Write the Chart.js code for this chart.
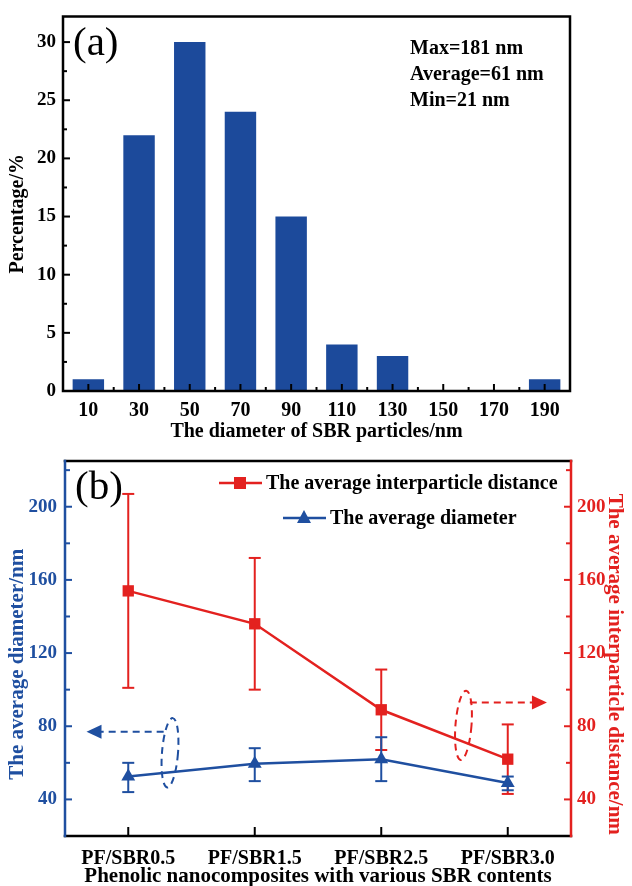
<!DOCTYPE html>
<html>
<head>
<meta charset="utf-8">
<script src="https://cdn.jsdelivr.net/npm/chart.js@4"></script>
<style>
  body { margin: 0; background: #fff; }
  canvas { display: block; }
</style>
</head>
<body>
<canvas id="histChart" width="632" height="443"></canvas>
<canvas id="spacingChart" width="632" height="443"></canvas>
<script>
// (a) particle size distribution
const sizeBins = ['10', '30', '50', '70', '90', '110', '130', '150', '170', '190'];
const percentages = [1, 22, 30, 24, 15, 4, 3, 0, 0, 1];
const percentTicks = [0, 5, 10, 15, 20, 25, 30];
const statsLines = ['Max=181 nm', 'Average=61 nm', 'Min=21 nm'];

// (b) diameter and interparticle distance
const composites = ['PF/SBR0.5', 'PF/SBR1.5', 'PF/SBR2.5', 'PF/SBR3.0'];
const distance = [154, 136, 89, 62];
const distanceHigh = [207, 172, 111, 81];
const distanceLow = [101, 100, 67, 43];
const diameter = [52.5, 59.5, 62, 49];
const diameterHigh = [60, 68, 74, 52.5];
const diameterLow = [44, 50, 50, 45];
const nmTicks = [40, 80, 120, 160, 200];

const SERIF = '"Liberation Serif", "Times New Roman", serif';
const BAR_BLUE = '#1c4a9b';
const BLUE = '#1f4fa0';
const RED = '#e3211f';
const EN = '\u2002'; // nudges the vertical titles a little below centre, as in the figure

function boldFont(size) {
    return { family: SERIF, size: size, weight: 'bold', lineHeight: 1 };
}

function tickLine(ctx, x1, y1, x2, y2) {
    ctx.beginPath();
    ctx.moveTo(x1, y1);
    ctx.lineTo(x2, y2);
    ctx.stroke();
}

// ticks pointing into the plot, Origin style
function innerTicks(chart, id, values, len, color, side) {
    const scale = chart.scales[id];
    const area = chart.chartArea;
    const ctx = chart.ctx;
    ctx.save();
    ctx.strokeStyle = color;
    ctx.lineWidth = 2;
    values.filter(v => v >= scale.min && v <= scale.max).forEach(v => {
        const p = scale.getPixelForValue(v);
        if (side === 'bottom') tickLine(ctx, p, area.bottom, p, area.bottom - len);
        if (side === 'left') tickLine(ctx, area.left, p, area.left + len, p);
        if (side === 'right') tickLine(ctx, area.right, p, area.right - len, p);
    });
    ctx.restore();
}

function frameSide(ctx, color, x1, y1, x2, y2) {
    ctx.save();
    ctx.strokeStyle = color;
    ctx.lineWidth = 2.5;
    ctx.lineCap = 'square';
    tickLine(ctx, x1, y1, x2, y2);
    ctx.restore();
}

const histDecor = {
    id: 'histDecor',
    afterDraw(chart) {
        const ctx = chart.ctx;
        const a = chart.chartArea;
        const majors = sizeBins.map((b, i) => i);
        const minors = sizeBins.slice(1).map((b, i) => i + 0.5);
        innerTicks(chart, 'x', majors, 7, '#000', 'bottom');
        innerTicks(chart, 'x', minors, 4, '#000', 'bottom');
        innerTicks(chart, 'y', percentTicks, 7, '#000', 'left');
        innerTicks(chart, 'y', percentTicks.map(v => v + 2.5), 4, '#000', 'left');
        ctx.save();
        ctx.strokeStyle = '#000';
        ctx.lineWidth = 2.5;
        ctx.strokeRect(a.left, a.top, a.right - a.left, a.bottom - a.top);
        ctx.fillStyle = '#000';
        ctx.font = '41px ' + SERIF;
        ctx.textBaseline = 'middle';
        ctx.fillText('(a)', a.left + 10, a.top + 28);
        ctx.font = 'bold 20px ' + SERIF;
        statsLines.forEach((t, i) => ctx.fillText(t, 410, 49 + i * 26));
        ctx.restore();
    }
};

new Chart(document.getElementById('histChart'), {
    type: 'bar',
    data: {
        labels: sizeBins,
        datasets: [{
            data: percentages,
            backgroundColor: BAR_BLUE,
            borderWidth: 0,
            categoryPercentage: 1,
            barPercentage: 0.62
        }]
    },
    options: {
        responsive: false,
        animation: false,
        layout: { padding: { top: 14, right: 62, left: 0, bottom: 0 } },
        plugins: { legend: { display: false }, tooltip: { enabled: false } },
        scales: {
            x: {
                offset: true,
                grid: { display: false, drawTicks: false },
                border: { display: false },
                ticks: { color: '#000', font: boldFont(20), padding: 10 },
                title: { display: true, text: 'The diameter of SBR particles/nm', color: '#000', font: boldFont(20), padding: { bottom: 1 } },
                afterFit(s) { s.height = 52; }
            },
            y: {
                min: 0,
                max: 32.2,
                grid: { display: false, drawTicks: false },
                border: { display: false },
                afterBuildTicks(s) { s.ticks = percentTicks.map(v => ({ value: v })); },
                ticks: { color: '#000', font: boldFont(19), padding: 7 },
                title: { display: true, text: 'Percentage/%' + EN + EN, color: '#000', font: boldFont(20), padding: { top: 8 } },
                afterFit(s) { s.width = 63; }
            }
        }
    },
    plugins: [histDecor]
});

// error bars, legend, frame and the dashed call-outs for (b)
function errorBars(chart, id, hi, lo, color) {
    const ctx = chart.ctx;
    const ys = chart.scales[id];
    const xs = chart.scales.x;
    ctx.save();
    ctx.strokeStyle = color;
    ctx.lineWidth = 2;
    hi.forEach((h, i) => {
        const x = xs.getPixelForValue(i);
        const yh = ys.getPixelForValue(h);
        const yl = ys.getPixelForValue(lo[i]);
        tickLine(ctx, x, yh, x, yl);
        tickLine(ctx, x - 6, yh, x + 6, yh);
        tickLine(ctx, x - 6, yl, x + 6, yl);
    });
    ctx.restore();
}

function callout(chart, color, cx, cy, ry, lineFrom, lineTo, lineVal) {
    const ctx = chart.ctx;
    const xs = chart.scales.x;
    const ys = chart.scales.y;
    const ex = xs.getPixelForValue(cx);
    const ey = ys.getPixelForValue(cy);
    const ly = ys.getPixelForValue(lineVal);
    const x1 = xs.getPixelForValue(lineFrom);
    const x2 = xs.getPixelForValue(lineTo);
    const dir = Math.sign(x2 - x1);
    ctx.save();
    ctx.strokeStyle = color;
    ctx.fillStyle = color;
    ctx.lineWidth = 2;
    ctx.setLineDash([7, 5]);
    ctx.beginPath();
    ctx.ellipse(ex, ey, 8, ys.getPixelForValue(cy - ry) - ey, 0.08, 0, Math.PI * 2);
    ctx.stroke();
    tickLine(ctx, x1, ly, x2 - dir * 14, ly);
    ctx.setLineDash([]);
    ctx.beginPath();
    ctx.moveTo(x2, ly);
    ctx.lineTo(x2 - dir * 15, ly - 7);
    ctx.lineTo(x2 - dir * 15, ly + 7);
    ctx.closePath();
    ctx.fill();
    ctx.restore();
}

function legendItem(ctx, x, y, color, shape, text) {
    ctx.save();
    ctx.strokeStyle = color;
    ctx.fillStyle = color;
    ctx.lineWidth = 2.5;
    tickLine(ctx, x, y, x + 43, y);
    const mx = x + 21;
    ctx.beginPath();
    if (shape === 'rect') {
        ctx.rect(mx - 6, y - 6, 12, 12);
    } else {
        ctx.moveTo(mx, y - 8);
        ctx.lineTo(mx + 7, y + 5);
        ctx.lineTo(mx - 7, y + 5);
        ctx.closePath();
    }
    ctx.fill();
    ctx.fillStyle = '#000';
    ctx.font = 'bold 20px ' + SERIF;
    ctx.textBaseline = 'middle';
    ctx.fillText(text, x + 47, y + 1);
    ctx.restore();
}

const spacingDecor = {
    id: 'spacingDecor',
    beforeDatasetsDraw(chart) {
        errorBars(chart, 'y1', distanceHigh, distanceLow, RED);
        errorBars(chart, 'y', diameterHigh, diameterLow, BLUE);
        callout(chart, BLUE, 0.33, 65.5, 19, 0.28, -0.33, 77);
        callout(chart, RED, 2.65, 80.5, 19, 2.7, 3.31, 93);
    },
    afterDraw(chart) {
        const ctx = chart.ctx;
        const a = chart.chartArea;
        innerTicks(chart, 'x', composites.map((c, i) => i), 9, '#000', 'bottom');
        innerTicks(chart, 'y', nmTicks, 7, BLUE, 'left');
        innerTicks(chart, 'y', nmTicks.map(v => v + 20), 5, BLUE, 'left');
        innerTicks(chart, 'y1', nmTicks, 7, RED, 'right');
        innerTicks(chart, 'y1', nmTicks.map(v => v + 20), 5, RED, 'right');
        frameSide(ctx, '#000', a.left, a.top, a.right, a.top);
        frameSide(ctx, '#000', a.left, a.bottom, a.right, a.bottom);
        frameSide(ctx, BLUE, a.left, a.top, a.left, a.bottom);
        frameSide(ctx, RED, a.right, a.top, a.right, a.bottom);
        ctx.save();
        ctx.fillStyle = '#000';
        ctx.font = '41px ' + SERIF;
        ctx.textBaseline = 'middle';
        ctx.fillText('(b)', a.left + 10, a.top + 27);
        ctx.restore();
        legendItem(ctx, 219, a.top + 22, RED, 'rect', chart.data.datasets[0].label);
        legendItem(ctx, 283, a.top + 57, BLUE, 'triangle', chart.data.datasets[1].label);
    }
};

new Chart(document.getElementById('spacingChart'), {
    type: 'line',
    data: {
        labels: composites,
        datasets: [{
            label: 'The average interparticle distance',
            data: distance,
            yAxisID: 'y1',
            borderColor: RED,
            backgroundColor: RED,
            borderWidth: 2.5,
            pointStyle: 'rect',
            pointRadius: 8,
            pointBorderWidth: 0
        }, {
            label: 'The average diameter',
            data: diameter,
            yAxisID: 'y',
            borderColor: BLUE,
            backgroundColor: BLUE,
            borderWidth: 2.5,
            pointStyle: 'triangle',
            pointRadius: 8,
            pointBorderWidth: 0
        }]
    },
    options: {
        responsive: false,
        animation: false,
        layout: { padding: { top: 18, right: 0, left: 0, bottom: 0 } },
        plugins: { legend: { display: false }, tooltip: { enabled: false } },
        scales: {
            x: {
                offset: true,
                grid: { display: false, drawTicks: false },
                border: { display: false },
                ticks: { color: '#000', font: boldFont(20), padding: 13 },
                title: { display: true, text: 'Phenolic nanocomposites with various SBR contents', color: '#000', font: boldFont(21), padding: { bottom: -1 } },
                afterFit(s) { s.height = 50; }
            },
            y: {
                position: 'left',
                min: 20,
                max: 225,
                grid: { display: false, drawTicks: false },
                border: { display: false },
                afterBuildTicks(s) { s.ticks = nmTicks.map(v => ({ value: v })); },
                ticks: { color: BLUE, font: boldFont(19), padding: 8 },
                title: { display: true, text: 'The average diameter/nm' + EN + EN + EN, color: BLUE, font: boldFont(21), padding: { top: 7 } },
                afterFit(s) { s.width = 65; }
            },
            y1: {
                position: 'right',
                min: 20,
                max: 225,
                grid: { display: false, drawTicks: false },
                border: { display: false },
                afterBuildTicks(s) { s.ticks = nmTicks.map(v => ({ value: v })); },
                ticks: { color: RED, font: boldFont(19), padding: 6 },
                title: { display: true, text: EN + EN + EN + 'The average interparticle distance/nm', color: RED, font: boldFont(21), padding: { top: 7 } },
                afterFit(s) { s.width = 61; }
            }
        }
    },
    plugins: [spacingDecor]
});
</script>
</body>
</html>
